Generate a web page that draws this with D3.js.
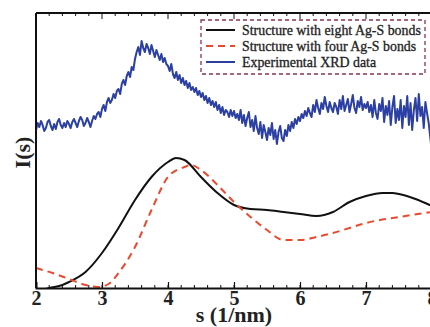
<!DOCTYPE html>
<html>
<head>
<meta charset="utf-8">
<script src="https://cdn.jsdelivr.net/npm/d3@7"></script>
<style>
  html, body { margin: 0; padding: 0; background: #fff; }
  svg { display: block; }
  svg text { font-family: "Liberation Serif", "Times New Roman", "DejaVu Serif", serif; }
</style>
</head>
<body>
<svg id="chart" width="430" height="327"></svg>
<script>
// I(s) vs s — simulated structures against experimental XRD

// black: structure with eight Ag-S bonds
const sEight = [2.0, 2.2, 2.4, 2.5, 2.75, 3.0, 3.25, 3.5, 3.75, 4.0, 4.12, 4.25, 4.5, 4.75,
  5.0, 5.25, 5.5, 5.75, 6.0, 6.25, 6.5, 6.75, 7.0, 7.25, 7.4, 7.5, 7.75, 8.0];
const iEight = [-4, 0, 3, 6, 16, 35, 60, 88, 111, 126, 130, 128, 111, 95,
  83, 79, 78, 76, 74, 72, 76, 86, 92, 95, 95, 94, 89, 82];

// red dashed: structure with four Ag-S bonds
const sFour = [2.0, 2.25, 2.5, 2.75, 2.95, 3.1, 3.25, 3.5, 3.75, 4.0, 4.25, 4.35, 4.5, 4.75,
  5.0, 5.25, 5.5, 5.75, 6.0, 6.25, 6.5, 6.75, 7.0, 7.5, 8.0];
const iFour = [20, 15, 9, 3, 1, 4, 15, 41, 78, 111, 121, 123, 118, 103,
  86, 71, 58, 48, 48, 51, 55, 60, 65, 71, 76];

// blue: experimental XRD data, s from 2.0 to 8.0 in steps of 0.025
const sExpStep = 0.025;
const iExp = [
  158,165,161,167,163,157,160,166,168,162,158,164,159,166,169,163,160,165,161,167,
  164,160,166,169,165,161,167,171,168,162,165,170,166,161,167,172,169,174,176,171,
  179,183,177,186,190,185,188,194,190,197,199,194,204,208,203,212,216,211,221,218,
  229,236,241,233,247,240,236,244,240,234,243,237,231,238,233,228,234,226,230,224,
  222,217,224,214,210,216,208,213,205,210,203,207,200,205,198,201,196,200,193,197,
  191,195,188,192,185,190,183,187,181,186,178,183,175,181,173,178,176,171,178,172,
  177,170,174,168,178,165,173,162,170,176,161,168,157,172,160,154,166,150,163,156,
  148,160,153,165,149,158,144,156,162,150,147,158,152,163,157,166,160,169,164,171,
  167,174,170,177,172,180,175,171,183,176,188,180,174,185,179,191,182,176,186,180,
  176,185,181,174,188,179,192,177,183,189,176,184,193,180,175,187,181,191,178,184,
  180,186,176,183,171,188,175,169,184,177,190,166,182,173,187,163,181,192,165,179,
  168,188,160,182,171,192,163,185,158,178,190,167,194,172,181,160,186,175,165,150,
  135
];

const xTicks = [2, 3, 4, 5, 6, 7, 8];
const legendLabels = [
  "Structure with eight Ag-S bonds",
  "Structure with four Ag-S bonds",
  "Experimental XRD data"
];

const m = { left: 36, top: 13, bottom: 288, right: 432 };

const svg = d3.select("#chart");

const x = d3.scaleLinear().domain([2, 8]).range([m.left, m.right]);
const y = d3.scaleLinear().domain([0, 275]).range([m.bottom, m.top]);

svg.append("defs").append("clipPath").attr("id", "plot-clip")
  .append("rect").attr("x", m.left).attr("y", m.top)
  .attr("width", m.right - m.left).attr("height", m.bottom - m.top);

const line = d3.line().x(d => x(d[0])).y(d => y(d[1])).curve(d3.curveMonotoneX);
const rawLine = d3.line().x(d => x(d[0])).y(d => y(d[1]));

const plot = svg.append("g").attr("clip-path", "url(#plot-clip)");

const expData = iExp.map((v, i) => [2 + i * sExpStep, v]);
plot.append("path")
  .datum(expData)
  .attr("fill", "none")
  .attr("stroke", "#2c40a4")
  .attr("stroke-width", 2)
  .attr("stroke-linejoin", "round")
  .attr("d", rawLine);

plot.append("path")
  .datum(sEight.map((s, i) => [s, iEight[i]]))
  .attr("fill", "none")
  .attr("stroke", "#111")
  .attr("stroke-width", 2)
  .attr("d", line);

plot.append("path")
  .datum(sFour.map((s, i) => [s, iFour[i]]))
  .attr("fill", "none")
  .attr("stroke", "#e84a2e")
  .attr("stroke-width", 2)
  .attr("stroke-dasharray", "7,5")
  .attr("d", line);

// frame
svg.append("line").attr("x1", m.left).attr("x2", m.right).attr("y1", m.top).attr("y2", m.top)
  .attr("stroke", "#111").attr("stroke-width", 2);
svg.append("line").attr("x1", m.left).attr("x2", m.left).attr("y1", m.top).attr("y2", m.bottom)
  .attr("stroke", "#111").attr("stroke-width", 2);

// bottom axis, ticks pointing inward
const minor = d3.range(2, 8.001, 0.2);
const bAxis = svg.append("g").attr("transform", `translate(0,${m.bottom})`)
  .call(d3.axisBottom(x).tickValues(xTicks).tickSize(-6).tickPadding(3).tickFormat(d3.format("d")));
bAxis.attr("font-family", null);
bAxis.select(".domain").attr("stroke", "#111").attr("stroke-width", 2);
bAxis.selectAll(".tick line").attr("stroke", "#111").attr("stroke-width", 1.2);
bAxis.selectAll(".tick text")
  .style("font-size", "20px").style("font-weight", "bold").attr("fill", "#222");

svg.append("g").selectAll("line").data(minor).join("line")
  .attr("x1", d => x(d)).attr("x2", d => x(d))
  .attr("y1", m.bottom).attr("y2", m.bottom - 3)
  .attr("stroke", "#111").attr("stroke-width", 1);

// top ticks, pointing down
svg.append("g").selectAll("line").data(minor).join("line")
  .attr("x1", d => x(d)).attr("x2", d => x(d))
  .attr("y1", m.top).attr("y2", d => m.top + (Math.abs(d - Math.round(d)) < 1e-6 ? 6 : 3))
  .attr("stroke", "#111").attr("stroke-width", 1);

// axis titles
svg.append("text")
  .attr("x", x(5)).attr("y", 322)
  .attr("text-anchor", "middle")
  .style("font-size", "22px").style("font-weight", "bold").attr("fill", "#222")
  .text("s (1/nm)");

svg.append("text")
  .attr("transform", `translate(30,${(m.top + m.bottom) / 2 + 2}) rotate(-90)`)
  .attr("text-anchor", "middle")
  .style("font-size", "22px").style("font-weight", "bold").attr("fill", "#222")
  .text("I(s)");

// legend
const lg = svg.append("g");
lg.append("rect")
  .attr("x", 201).attr("y", 20).attr("width", 224).attr("height", 54)
  .attr("fill", "#fff")
  .attr("stroke", "#8a3350").attr("stroke-width", 1.3)
  .attr("stroke-dasharray", "4,3");

const legendStyles = [
  { stroke: "#111", dash: null },
  { stroke: "#e84a2e", dash: "7,5" },
  { stroke: "#2c40a4", dash: null }
];
const legendTexts = legendLabels.map((label, i) => {
  const yy = 30 + i * 16;
  lg.append("line")
    .attr("x1", 206).attr("x2", 235).attr("y1", yy).attr("y2", yy)
    .attr("stroke", legendStyles[i].stroke).attr("stroke-width", 2)
    .attr("stroke-dasharray", legendStyles[i].dash);
  return lg.append("text")
    .attr("x", 242).attr("y", yy + 5)
    .style("font-size", "15px")
    .attr("fill", "#222").attr("stroke", "#222").attr("stroke-width", 0.3)
    .text(label);
});
// shrink the legend font so the longest label ends inside the box
const longest = d3.max(legendTexts, t => t.node().getComputedTextLength());
const legendSize = Math.min(15, 15 * 179 / longest);
legendTexts.forEach(t => t.style("font-size", legendSize + "px"));
</script>
</body>
</html>
